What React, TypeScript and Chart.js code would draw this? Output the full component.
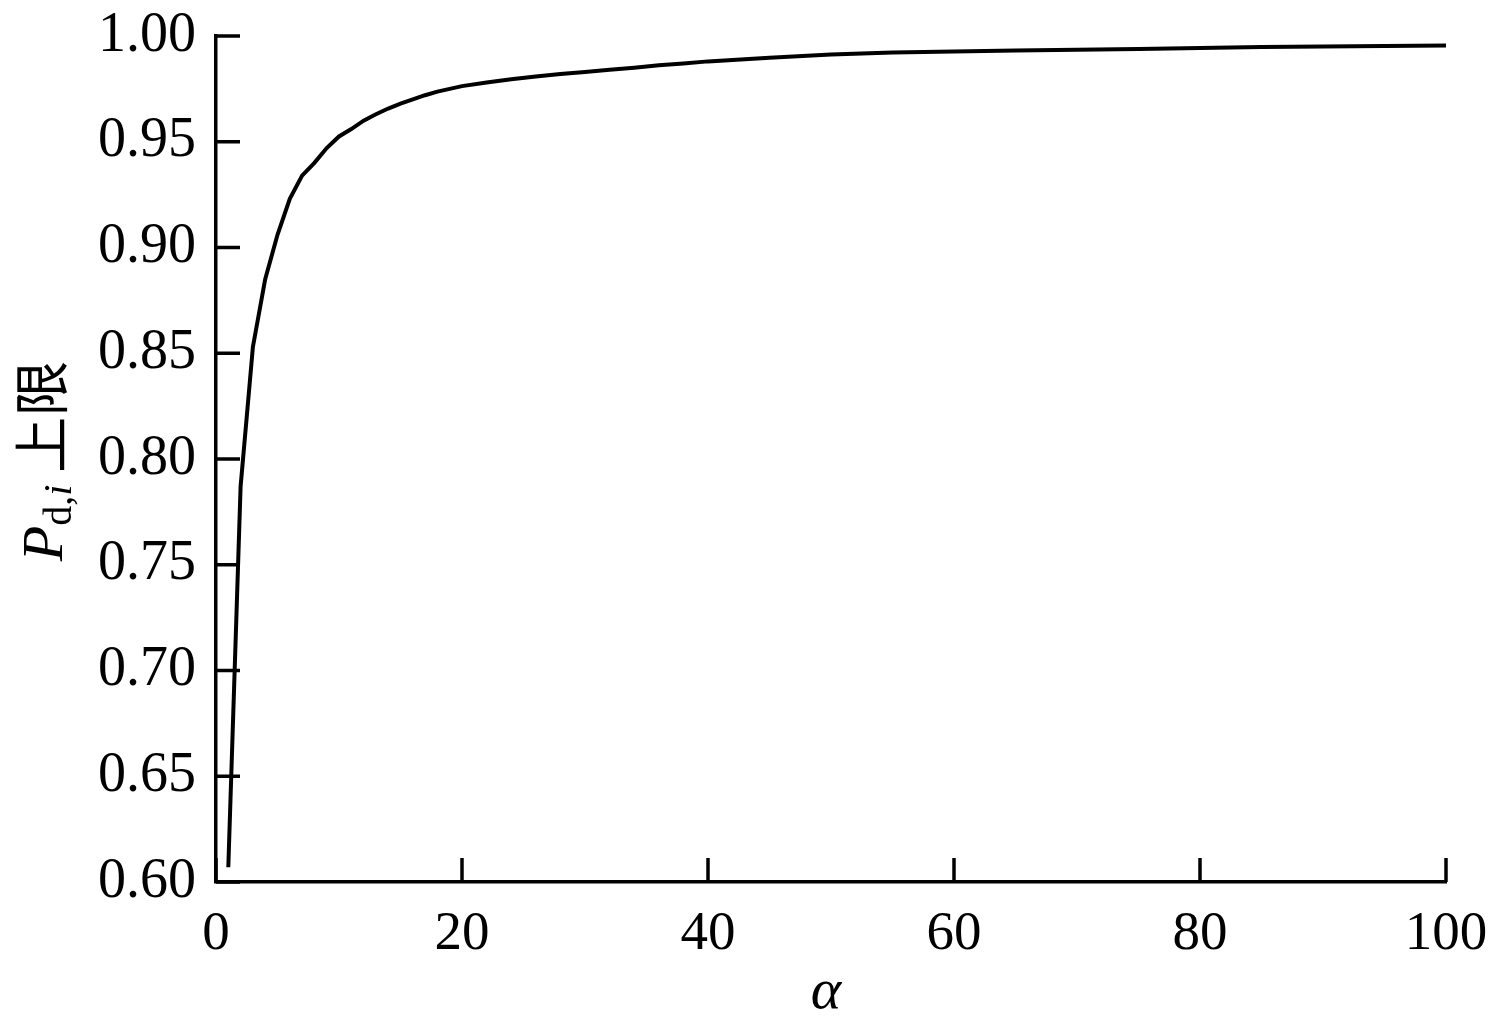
import React, { useEffect, useRef } from "react";
import { Chart, registerables } from "chart.js";

Chart.register(...registerables);

// α values (x) and upper-limit P_{d,i} values (y)
const alphaValues = [
  1, 2, 3, 4, 5, 6, 7, 8, 9, 10, 11, 12, 13, 14, 15, 16, 17, 18, 19, 20,
  22, 24, 26, 28, 30, 32, 34, 36, 38, 40, 45, 50, 55, 60, 65, 70, 75, 80,
  85, 90, 95, 100,
];
const pdUpper = [
  0.607, 0.787, 0.853, 0.885, 0.906, 0.923, 0.934, 0.94, 0.947, 0.9525,
  0.956, 0.96, 0.963, 0.9657, 0.968, 0.97, 0.972, 0.9737, 0.975, 0.9763,
  0.978, 0.9795, 0.9808, 0.982, 0.983, 0.984, 0.985, 0.9862, 0.987, 0.988,
  0.9897, 0.9912, 0.9922, 0.9927, 0.9932, 0.9935, 0.9939, 0.9943, 0.9948,
  0.995, 0.9953, 0.9955,
];

const xTickMin = 0;
const xTickMax = 100;
const xTickStep = 20;
const yTickMin = 0.6;
const yTickMax = 1.0;
const yTickStep = 0.05;

const xTitle = "α";
const yTitleMain = "P";
const yTitleSubD = "d,";
const yTitleSubI = "i";
const yTitleCJK = "上限";

const SERIF = '"Liberation Serif", "Times New Roman", serif';
const CJK = '"Noto Sans CJK SC", "Noto Sans CJK JP", sans-serif';

const inwardTicks = {
  id: "inwardTicks",
  afterDraw(chart: any) {
    const ctx = chart.ctx;
    const xs = chart.scales.x;
    const ys = chart.scales.y;
    const area = chart.chartArea;
    ctx.save();
    ctx.strokeStyle = "#000";
    ctx.lineWidth = 3.5;
    ctx.lineCap = "butt";
    xs.ticks.forEach((t: any, i: number) => {
      const px = xs.getPixelForTick(i);
      ctx.beginPath();
      ctx.moveTo(px, area.bottom);
      ctx.lineTo(px, area.bottom - 24);
      ctx.stroke();
    });
    ys.ticks.forEach((t: any, i: number) => {
      const py = ys.getPixelForTick(i);
      ctx.beginPath();
      ctx.moveTo(area.left, py);
      ctx.lineTo(area.left + 24, py);
      ctx.stroke();
    });
    ctx.restore();
  },
};

const titles = {
  id: "titles",
  afterDraw(chart: any) {
    const ctx = chart.ctx;
    const area = chart.chartArea;
    ctx.save();
    ctx.fillStyle = "#000";
    // x title
    ctx.font = `italic 58px ${SERIF}`;
    ctx.textAlign = "center";
    ctx.textBaseline = "alphabetic";
    ctx.fillText(xTitle, (area.left + area.right) / 2 - 5, 1008);

    // y title, rotated
    const fMain = `italic 58px ${SERIF}`;
    const fSub = `40px ${SERIF}`;
    const fSubI = `italic 40px ${SERIF}`;
    const fCJK = `56px ${CJK}`;
    ctx.font = fMain;
    const wP = ctx.measureText(yTitleMain).width;
    ctx.font = fSub;
    const wD = ctx.measureText(yTitleSubD).width;
    ctx.font = fSubI;
    const wI = ctx.measureText(yTitleSubI).width;
    ctx.font = fCJK;
    const wC = ctx.measureText(yTitleCJK).width;
    const gap = 12;
    const total = wP + wD + wI + gap + wC;
    ctx.translate(62, 461);
    ctx.rotate(-Math.PI / 2);
    ctx.textAlign = "left";
    let x = -total / 2;
    ctx.font = fMain;
    ctx.fillText(yTitleMain, x, 0);
    x += wP;
    ctx.font = fSub;
    ctx.fillText(yTitleSubD, x, 9);
    x += wD;
    ctx.font = fSubI;
    ctx.fillText(yTitleSubI, x, 9);
    x += wI + gap;
    ctx.font = fCJK;
    ctx.fillText(yTitleCJK, x, 0);
    ctx.restore();
  },
};

const noPad = (s: any) => {
  s.paddingTop = 0;
  s.paddingBottom = 0;
  s.paddingLeft = 0;
  s.paddingRight = 0;
};

export default function App() {
  const ref = useRef<HTMLCanvasElement | null>(null);
  useEffect(() => {
    if (!ref.current) return;
    const data = alphaValues.map((a, i) => ({ x: a, y: pdUpper[i] }));
    const chart = new Chart(ref.current, {
      type: "line",
      data: {
        datasets: [
          {
            data,
            borderColor: "#000",
            borderWidth: 4,
            pointRadius: 0,
            tension: 0,
            fill: false,
          },
        ],
      },
      options: {
        animation: false,
        responsive: false,
        devicePixelRatio: 1,
        layout: { padding: { top: 36, right: 45, left: 0, bottom: 0 } },
        plugins: { legend: { display: false }, tooltip: { enabled: false } },
        scales: {
          x: {
            type: "linear",
            min: xTickMin,
            max: xTickMax,
            afterFit: (s: any) => {
              s.height = 141;
              noPad(s);
            },
            ticks: {
              stepSize: xTickStep,
              padding: 20,
              color: "#000",
              font: { family: SERIF, size: 55 },
              maxRotation: 0,
            },
            grid: { display: true, drawOnChartArea: false, drawTicks: false },
            border: { display: true, color: "#000", width: 3.5 },
          },
          y: {
            type: "linear",
            min: yTickMin,
            max: yTickMax,
            afterFit: (s: any) => {
              s.width = 216;
              noPad(s);
            },
            ticks: {
              stepSize: yTickStep,
              padding: 20,
              color: "#000",
              font: { family: SERIF, size: 56 },
              callback: (v: any) => Number(v).toFixed(2),
            },
            grid: { display: true, drawOnChartArea: false, drawTicks: false },
            border: { display: true, color: "#000", width: 3.5 },
          },
        },
      },
      plugins: [inwardTicks, titles],
    });
    return () => chart.destroy();
  }, []);
  return (
    <div style={{ position: "absolute", left: 0, top: 0, width: 1491, height: 1023, background: "#fff" }}>
      <canvas ref={ref} width={1491} height={1023} />
    </div>
  );
}
